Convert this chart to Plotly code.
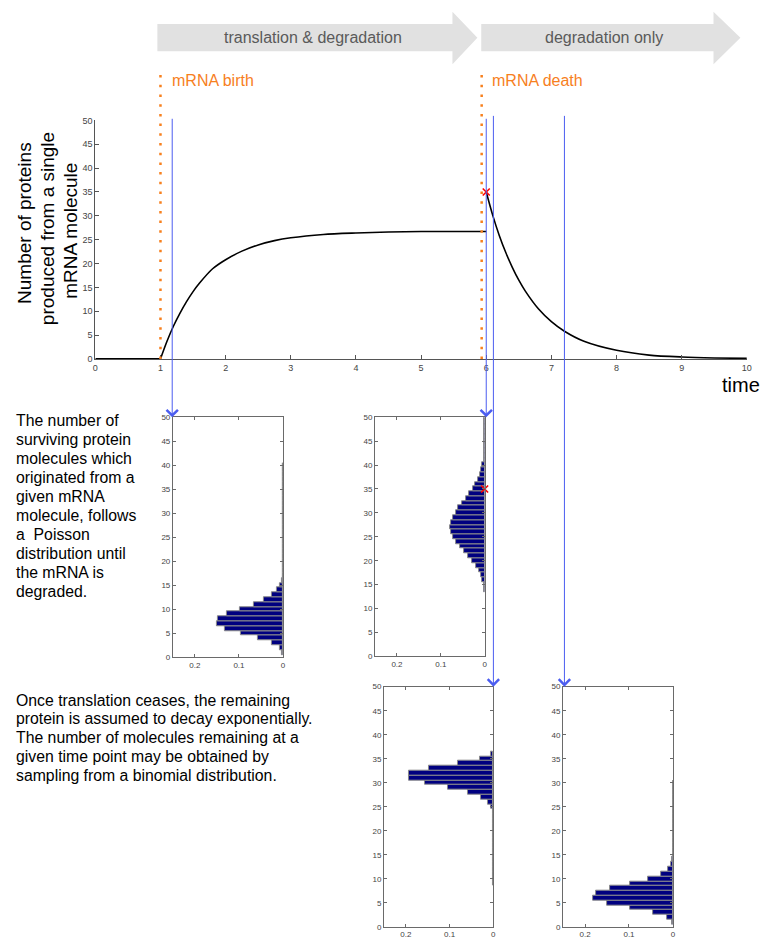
import plotly.graph_objects as go

W, H = 766, 942
FONT = "Liberation Sans, Arial, Helvetica, sans-serif"

# ---- protein count produced from one mRNA molecule over time ----
pre_t = [0.0, 1.0]
pre_n = [0.0, 0.0]
growth_t = [1.0, 1.1, 1.2, 1.3, 1.4, 1.5, 1.6, 1.8, 2.0, 2.25, 2.5, 2.75,
            3.0, 3.5, 4.0, 4.5, 5.0, 5.5, 6.0]
growth_n = [0.0, 3.7, 6.9, 9.6, 12.0, 14.1, 15.9, 18.9, 20.8, 22.6, 23.9, 24.8,
            25.4, 26.1, 26.4, 26.6, 26.7, 26.7, 26.7]
decay_t = [6.0, 6.1, 6.2, 6.3, 6.4, 6.5, 6.6, 6.8, 7.0, 7.2, 7.5, 8.0,
           8.5, 9.0, 9.5, 10.0]
decay_n = [35.0, 30.1, 25.9, 22.3, 19.2, 16.5, 14.2, 10.5, 7.8, 5.8, 3.7, 1.8,
           0.8, 0.4, 0.2, 0.1]

mrna_birth = 1.0
mrna_death = 5.93
death_t, death_n = 6.0, 35.0

# time points at which the distributions below are taken
snapshot_t = [1.18, 6.0, 6.11, 7.2]

# ---- distributions of protein counts (fraction of cells) ----
hist1_bins = list(range(1, 41))
hist1_freq = [0.003, 0.008, 0.025, 0.057, 0.095, 0.132, 0.151, 0.149, 0.128, 0.099,
              0.067, 0.043, 0.025, 0.013, 0.008, 0.002] + [0.0005] * 24

hist2_bins = list(range(14, 51))
hist2_freq = [0.001, 0.002, 0.005, 0.009, 0.013, 0.020, 0.028, 0.037, 0.046, 0.055,
              0.066, 0.073, 0.076, 0.078, 0.076, 0.073, 0.066, 0.060, 0.052, 0.043,
              0.035, 0.027, 0.021, 0.015, 0.011, 0.0075, 0.005, 0.002] + [0.0005] * 9

hist3_bins = list(range(9, 37))
hist3_freq = [0.0005] * 16 + [0.005, 0.012, 0.029, 0.059, 0.104, 0.156, 0.192,
                              0.192, 0.148, 0.080, 0.030, 0.005]

hist4_bins = list(range(1, 31))
hist4_freq = [0.003, 0.013, 0.046, 0.098, 0.150, 0.181, 0.176, 0.142, 0.097, 0.057,
              0.027, 0.010, 0.005, 0.002] + [0.0005] * 16

hists = [(hist1_bins, hist1_freq), (hist2_bins, hist2_freq),
         (hist3_bins, hist3_freq), (hist4_bins, hist4_freq)]

# ---- text ----
ylabel_lines = ["Number of proteins", "produced from a single", "mRNA molecule"]
poisson_note = ["The number of", "surviving protein", "molecules which",
                "originated from a", "given mRNA", "molecule, follows",
                "a  Poisson", "distribution until", "the mRNA is", "degraded."]
binomial_note = ["Once translation ceases, the remaining",
                 "protein is assumed to decay exponentially.",
                 "The number of molecules remaining at a",
                 "given time point may be obtained by",
                 "sampling from a binomial distribution."]


def px(x):
    return x / W


def py(y):
    return 1 - y / H


# panel boxes in pixels: (left, right, top, bottom)
main_box = (93.3, 751.7, 116.7, 357.7)
hist_boxes = [(171.7, 283.0, 416.7, 659.3),
              (376.0, 486.7, 416.7, 658.3),
              (385.0, 495.5, 689.0, 931.7),
              (566.0, 677.0, 689.0, 931.7)]

ORANGE = "#f7801e"
BLUE = "#4b5df0"
NAVY = "#000080"
AX = "#555555"

fig = go.Figure()

fig.add_trace(go.Scatter(x=pre_t, y=pre_n, mode="lines",
                         line=dict(color="black", width=1.6), xaxis="x", yaxis="y"))
fig.add_trace(go.Scatter(x=growth_t, y=growth_n, mode="lines",
                         line=dict(color="black", width=1.6, shape="spline", smoothing=0.8),
                         xaxis="x", yaxis="y"))
fig.add_trace(go.Scatter(x=decay_t, y=decay_n, mode="lines",
                         line=dict(color="black", width=1.6, shape="spline", smoothing=0.8),
                         xaxis="x", yaxis="y"))
fig.add_trace(go.Scatter(x=[death_t], y=[death_n], mode="markers",
                         marker=dict(symbol="x-thin", size=7, line=dict(color="red", width=1.6)),
                         xaxis="x", yaxis="y", cliponaxis=False))

for i, (bins, freq) in enumerate(hists):
    n = i + 2
    fig.add_trace(go.Bar(x=freq, y=bins, orientation="h", width=1,
                         marker=dict(color=NAVY, line=dict(color="#8a8a8a", width=1)),
                         xaxis=f"x{n}", yaxis=f"y{n}"))

# the count at mRNA death, marked on the second distribution too
fig.add_trace(go.Scatter(x=[0], y=[death_n], mode="markers",
                         marker=dict(symbol="x-thin", size=7, line=dict(color="red", width=1.6)),
                         xaxis="x3", yaxis="y3", cliponaxis=False))

layout = dict(
    width=W, height=H, margin=dict(l=0, r=0, t=0, b=0),
    paper_bgcolor="white", plot_bgcolor="white", showlegend=False,
    bargap=0, font=dict(family=FONT, color="black"),
    xaxis=dict(domain=[px(main_box[0]), px(main_box[1])], range=[0, 10], dtick=1,
               showline=True, linecolor=AX, linewidth=1, ticks="inside", ticklen=4,
               tickcolor=AX, showgrid=False, zeroline=False,
               tickfont=dict(size=9, color="#444"), anchor="y"),
    yaxis=dict(domain=[py(main_box[3]), py(main_box[2])], range=[0, 50], dtick=5,
               showline=True, linecolor=AX, linewidth=1, ticks="inside", ticklen=4,
               tickcolor=AX, showgrid=False, zeroline=False,
               tickfont=dict(size=9, color="#444"), anchor="x"),
)

for i, (l, r, t, b) in enumerate(hist_boxes):
    n = i + 2
    layout[f"xaxis{n}"] = dict(domain=[px(l), px(r)], range=[0.25, 0],
                               tickvals=[0.2, 0.1, 0], ticktext=["0.2", "0.1", "0"],
                               showline=True, mirror="ticks", linecolor="#6a6a6a", linewidth=1,
                               ticks="inside", ticklen=3, tickcolor="#6a6a6a",
                               showgrid=False, zeroline=False,
                               tickfont=dict(size=8, color="#444"), anchor=f"y{n}")
    layout[f"yaxis{n}"] = dict(domain=[py(b), py(t)], range=[0, 50], dtick=5,
                               showline=True, mirror="ticks", linecolor="#6a6a6a", linewidth=1,
                               ticks="inside", ticklen=3, tickcolor="#6a6a6a",
                               showgrid=False, zeroline=False,
                               tickfont=dict(size=8, color="#444"), anchor=f"x{n}")

shapes = []


# phase arrows along the top
def block_arrow(x0, xh, xtip, yb0, yb1, yh0, yh1):
    ym = (yb0 + yb1) / 2
    pts = [(x0, yb0), (xh, yb0), (xh, yh0), (xtip, ym), (xh, yh1), (xh, yb1), (x0, yb1)]
    d = "M " + " L ".join(f"{px(x):.5f},{py(y):.5f}" for x, y in pts) + " Z"
    return dict(type="path", path=d, xref="paper", yref="paper",
                fillcolor="#e1e1e1", line=dict(width=0), layer="below")


shapes.append(block_arrow(156.0, 454.2, 479.4, 19.3, 46.7, 6.7, 60.0))
shapes.append(block_arrow(483.3, 718.0, 745.2, 19.3, 46.7, 6.7, 60.0))

# mRNA birth / death markers
for xt in (mrna_birth, mrna_death):
    shapes.append(dict(type="line", xref="x", yref="paper", x0=xt, x1=xt,
                       y0=py(main_box[3]), y1=py(66.0),
                       line=dict(color=ORANGE, width=2.5, dash="2.5px,7.2px")))

layout["shapes"] = shapes

ann = []


def label(text, x, y, size, color="black", xanchor="center", angle=0):
    ann.append(dict(text=text, x=px(x), y=py(y), xref="paper", yref="paper",
                    xanchor=xanchor, yanchor="middle", showarrow=False,
                    textangle=angle, borderpad=0,
                    font=dict(size=size, color=color)))


label("translation &amp; degradation", 312.8, 33.3, 16, "#5a5a5a")
label("degradation only", 607.5, 33.3, 16, "#5a5a5a")
label("mRNA birth", 169.5, 76, 16, ORANGE, "left")
label("mRNA death", 493.5, 76, 16, ORANGE, "left")

for line, xc, yc in zip(ylabel_lines, [21.5, 44.5, 67.5], [220, 226.5, 228.5]):
    label(line, xc, yc, 19, angle=-90)

label("time", 726, 384, 20, xanchor="left")

for k, line in enumerate(poisson_note):
    label(line, 12, 420 + 19.2 * k, 15.8, xanchor="left")
for k, line in enumerate(binomial_note):
    label(line, 12.5, 702.7 + 18.9 * k, 15.8, xanchor="left")

# sampling lines running from the time course down to each distribution
for t, (l, r, top, b) in zip(snapshot_t, hist_boxes):
    ann.append(dict(x=t, y=py(top), xref="x", yref="paper", text="",
                    showarrow=True, arrowhead=4, arrowsize=2.2, arrowwidth=1,
                    arrowcolor=BLUE, ax=0, ay=-(top - main_box[2]),
                    axref="pixel", ayref="pixel", standoff=0))

layout["annotations"] = ann
fig.update_layout(**layout)

fig.write_html("out.html")
